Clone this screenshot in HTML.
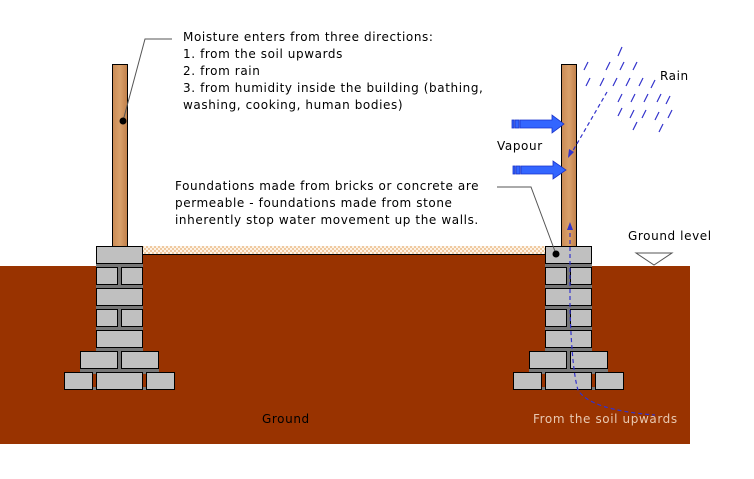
<!DOCTYPE html>
<html><head><meta charset="utf-8"><style>
html,body{margin:0;padding:0;background:#fff}
svg{display:block}
text{font-family:"DejaVu Sans","Liberation Sans",sans-serif;font-size:12px;letter-spacing:0.6px}
</style></head><body>
<svg width="754" height="479" viewBox="0 0 754 479" xmlns="http://www.w3.org/2000/svg">
<defs>
<pattern id="sl" width="4" height="4" patternUnits="userSpaceOnUse">
<rect width="4" height="4" fill="#fdf3e6"/><rect width="2" height="2" fill="#efc9a0"/><rect x="2" y="2" width="2" height="2" fill="#efc9a0"/>
</pattern>
<linearGradient id="wd" x1="0" x2="1"><stop offset="0" stop-color="#c98a55"/><stop offset="0.5" stop-color="#d9a06a"/><stop offset="1" stop-color="#c07f4a"/></linearGradient>
<g id="col">
<rect x="96" y="262" width="47" height="112" fill="#777777"/>
<rect x="80" y="366" width="79" height="8" fill="#777777"/>
<rect x="68" y="387" width="104" height="3" fill="#777777"/>
<g stroke="#000" stroke-width="1" fill="#c0c0c0">
<rect x="112.5" y="64.5" width="15" height="182" fill="url(#wd)"/>
<rect x="96.5" y="246.5" width="46" height="17"/>
<rect x="96.5" y="267.5" width="21" height="17"/><rect x="121.5" y="267.5" width="21" height="17"/>
<rect x="96.5" y="288.5" width="46" height="17"/>
<rect x="96.5" y="309.5" width="21" height="17"/><rect x="121.5" y="309.5" width="21" height="17"/>
<rect x="96.5" y="330.5" width="46" height="17"/>
<rect x="80.5" y="351.5" width="37" height="17"/><rect x="121.5" y="351.5" width="37" height="17"/>
<rect x="64.5" y="372.5" width="28" height="17"/><rect x="96.5" y="372.5" width="46" height="17"/><rect x="146.5" y="372.5" width="28" height="17"/>
</g>
</g>
</defs>
<rect x="0" y="266" width="690" height="178" fill="#993300"/>
<rect x="142" y="255" width="403" height="12" fill="#993300"/>
<rect x="142" y="246" width="403" height="9" fill="url(#sl)"/>
<line x1="142" y1="254.5" x2="545" y2="254.5" stroke="#000" stroke-width="1"/>
<use href="#col" x="0"/>
<use href="#col" x="449"/>
<polyline points="172,39 145,39 123,121" fill="none" stroke="#555" stroke-width="1"/>
<circle cx="123" cy="121" r="3.5" fill="#000"/>
<polyline points="497,187 531,187 556,254" fill="none" stroke="#555" stroke-width="1"/>
<circle cx="556" cy="254" r="3.5" fill="#000"/>
<polygon points="636,253 672,253 654,265" fill="#fff" stroke="#555"/>
<g stroke="#3333cc" stroke-width="1.2">
<line x1="622" y1="47" x2="618" y2="56"/>
<line x1="588" y1="62" x2="584" y2="70"/><line x1="610" y1="62" x2="606" y2="70"/><line x1="624" y1="62" x2="620" y2="70"/><line x1="637" y1="62" x2="633" y2="70"/>
<line x1="590" y1="78" x2="586" y2="86"/><line x1="604" y1="78" x2="600" y2="86"/><line x1="617" y1="78" x2="613" y2="86"/><line x1="630" y1="78" x2="626" y2="86"/><line x1="643" y1="78" x2="639" y2="86"/><line x1="655" y1="80" x2="651" y2="88"/>
<line x1="622" y1="94" x2="618" y2="102"/><line x1="635" y1="94" x2="631" y2="102"/><line x1="648" y1="94" x2="644" y2="102"/><line x1="661" y1="94" x2="657" y2="102"/><line x1="670" y1="96" x2="666" y2="104"/>
<line x1="622" y1="108" x2="618" y2="116"/><line x1="634" y1="110" x2="630" y2="118"/><line x1="646" y1="110" x2="642" y2="118"/><line x1="659" y1="112" x2="655" y2="120"/><line x1="672" y1="110" x2="668" y2="118"/>
<line x1="637" y1="122" x2="633" y2="130"/><line x1="663" y1="124" x2="659" y2="132"/>
</g>
<g stroke="#3333cc" stroke-width="1.2" stroke-dasharray="4,3" fill="none">
<line x1="607" y1="92" x2="571" y2="154"/>
<path d="M570 226 L570 310 Q572 370 578 390 Q590 410 655 415"/>
</g>
<polygon points="568,158 569,149 574,152" fill="#3333cc"/>
<polygon points="570,222 567,230 573,230" fill="#3333cc"/>
<g fill="#3366ff" stroke="#1a33cc" stroke-width="0.8">
<rect x="512" y="120" width="2" height="8"/><rect x="515" y="120" width="4" height="8"/>
<polygon points="520,120 552,120 552,115 564,124 552,133 552,128 520,128"/>
<rect x="513" y="166" width="2" height="8"/><rect x="516" y="166" width="4" height="8"/>
<polygon points="521,166 553,166 553,161 566,170 553,179 553,174 521,174"/>
</g>
<g fill="#000">
<text x="183" y="41">Moisture enters from three directions:</text>
<text x="183" y="58">1. from the soil upwards</text>
<text x="183" y="75">2. from rain</text>
<text x="183" y="92">3. from humidity inside the building (bathing,</text>
<text x="183" y="109">washing, cooking, human bodies)</text>
<text x="175" y="190">Foundations made from bricks or concrete are</text>
<text x="175" y="207">permeable - foundations made from stone</text>
<text x="175" y="224">inherently stop water movement up the walls.</text>
<text x="660" y="80">Rain</text>
<text x="497" y="150">Vapour</text>
<text x="628" y="240">Ground level</text>
<text x="262" y="423">Ground</text>
</g>
<text x="533" y="423" fill="#e8c8b0">From the soil upwards</text>
</svg>
</body></html>
